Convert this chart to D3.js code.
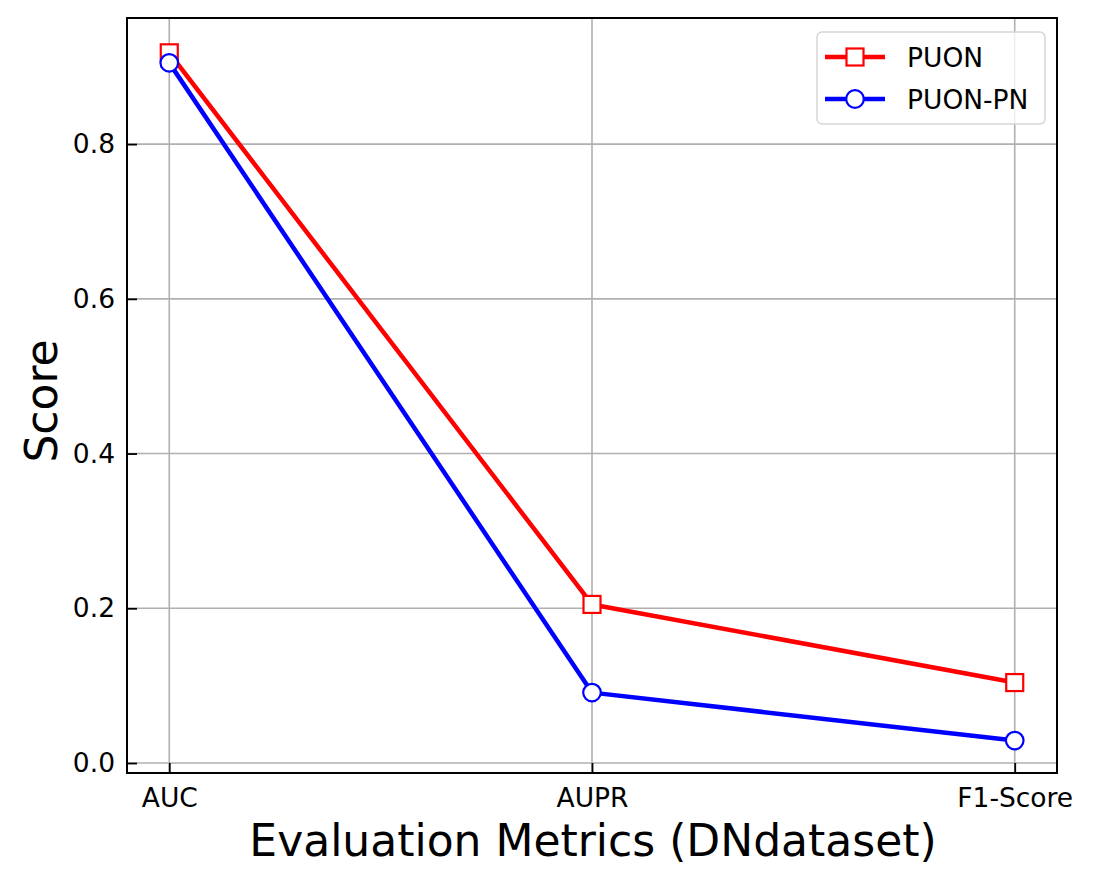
<!DOCTYPE html>
<html>
<head>
<meta charset="utf-8">
<script src="https://cdn.jsdelivr.net/npm/d3@7"></script>
<style>
  html, body { margin: 0; padding: 0; background: #fff; }
  svg { display: block; font-family: "DejaVu Sans", sans-serif; }
</style>
</head>
<body>
<svg id="chart" width="1096" height="886"></svg>
<script>
// values
const metrics = ["AUC", "AUPR", "F1-Score"];
const puon = [0.918, 0.205, 0.104];
const puonPn = [0.905, 0.091, 0.029];
const yTicks = [0.0, 0.2, 0.4, 0.6, 0.8];

const series = [
  { name: "PUON", values: puon, color: "#ff0000", marker: "square" },
  { name: "PUON-PN", values: puonPn, color: "#0000ff", marker: "circle" }
];

const m = { left: 127, right: 1057, top: 18, bottom: 773 };

const svg = d3.select("#chart");

const x = d3.scaleLinear().domain([-0.1, 2.1]).range([m.left, m.right]);
const y = d3.scaleLinear().domain([-0.0129, 0.963]).range([m.bottom, m.top]);

// grid
const grid = svg.append("g");
grid.selectAll("line.gx").data(metrics).join("line")
  .attr("x1", (d, i) => x(i)).attr("x2", (d, i) => x(i))
  .attr("y1", m.top).attr("y2", m.bottom)
  .attr("stroke", "#b0b0b0").attr("stroke-width", 1.6);
grid.selectAll("line.gy").data(yTicks).join("line")
  .attr("x1", m.left).attr("x2", m.right)
  .attr("y1", d => y(d)).attr("y2", d => y(d))
  .attr("stroke", "#b0b0b0").attr("stroke-width", 1.6);

// axes, ticks pointing inward
const xAxis = d3.axisBottom(x).tickValues([0, 1, 2])
  .tickFormat(i => metrics[i]).tickSize(-10).tickPadding(15);
const yAxis = d3.axisLeft(y).tickValues(yTicks)
  .tickFormat(d3.format(".1f")).tickSize(-10).tickPadding(12);

const gx = svg.append("g").attr("transform", `translate(0,${m.bottom})`).call(xAxis);
const gy = svg.append("g").attr("transform", `translate(${m.left},0)`).call(yAxis);
[gx, gy].forEach(g => {
  g.select(".domain").remove();
  g.selectAll(".tick line").attr("stroke", "#000").attr("stroke-width", 1.8);
  g.selectAll(".tick text").attr("fill", "#000")
    .style("font-family", "DejaVu Sans").style("font-size", "26.5px");
});

// frame
svg.append("rect")
  .attr("x", m.left).attr("y", m.top)
  .attr("width", m.right - m.left).attr("height", m.bottom - m.top)
  .attr("fill", "none").attr("stroke", "#000").attr("stroke-width", 2);

// lines + markers
const line = d3.line().x((d, i) => x(i)).y(d => y(d));
series.forEach(s => {
  svg.append("path").datum(s.values)
    .attr("d", line).attr("fill", "none")
    .attr("stroke", s.color).attr("stroke-width", 4.5)
    .attr("stroke-linejoin", "round");
});
series.forEach(s => {
  const g = svg.append("g");
  s.values.forEach((v, i) => drawMarker(g, s, x(i), y(v)));
});

function drawMarker(g, s, cx, cy) {
  if (s.marker === "square") {
    g.append("rect").attr("x", cx - 8.5).attr("y", cy - 8.5)
      .attr("width", 17).attr("height", 17)
      .attr("fill", "#fff").attr("stroke", s.color).attr("stroke-width", 2.2);
  } else {
    g.append("circle").attr("cx", cx).attr("cy", cy).attr("r", 8.8)
      .attr("fill", "#fff").attr("stroke", s.color).attr("stroke-width", 2.2);
  }
}

// axis labels
svg.append("text").attr("x", 593).attr("y", 856)
  .attr("text-anchor", "middle").style("font-size", "44px").text("Evaluation Metrics (DNdataset)");
svg.append("text").attr("transform", `translate(57,401) rotate(-90)`)
  .attr("text-anchor", "middle").style("font-size", "44px").text("Score");

// legend
const lg = svg.append("g");
lg.append("rect").attr("x", 817).attr("y", 32).attr("width", 228).attr("height", 92)
  .attr("rx", 5).attr("fill", "#fff").attr("fill-opacity", 0.8)
  .attr("stroke", "#d6d6d6").attr("stroke-width", 1.5);
series.forEach((s, i) => {
  const ly = 57 + i * 42;
  lg.append("line").attr("x1", 825).attr("x2", 885).attr("y1", ly).attr("y2", ly)
    .attr("stroke", s.color).attr("stroke-width", 4.5);
  drawMarker(lg, s, 855, ly);
  lg.append("text").attr("x", 907).attr("y", ly + 9.5).style("font-size", "26.5px").text(s.name);
});
</script>
</body>
</html>
